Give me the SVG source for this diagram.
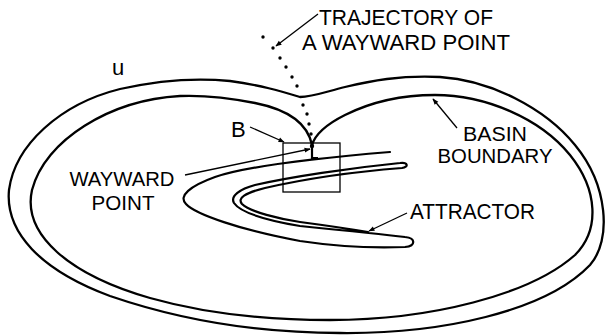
<svg xmlns="http://www.w3.org/2000/svg" width="605" height="336" viewBox="0 0 605 336">
<defs>
<marker id="ah" viewBox="0 0 10 10" refX="9" refY="5" markerWidth="7" markerHeight="6" markerUnits="userSpaceOnUse" orient="auto">
<path d="M0,1 L10,5 L0,9 Z" fill="#000"/>
</marker>
</defs>
<style>
.curve{fill:none;stroke:#000;stroke-width:2.3;stroke-linejoin:round;stroke-linecap:round}
.attr{fill:none;stroke:#000;stroke-width:2.2;stroke-linejoin:round;stroke-linecap:round}
.lead{fill:none;stroke:#000;stroke-width:1.3;marker-end:url(#ah)}
.lbl{font-family:"Liberation Sans",Arial,sans-serif;font-size:22px;fill:#000}
.sm{font-size:20px}
.dot{fill:#000}
</style>
<rect width="605" height="336" fill="#fff"/>
<g id="region-u">
<path class="curve" d="M300,97 C280,91 260,85 230,81 C200,78 160,80 120,89 C60,104 15,145 9,190 C5,232 40,270 110,296 C180,320 260,333 340,333 C440,334 545,312 590,265 C612,240 608,185 575,145 C545,108 490,80 440,77 C400,75 370,81 345,87 C325,92 312,97 300,97 Z"/>
<text class="lbl" x="112" y="75">u</text>
</g>
<g id="basin-boundary">
<path class="curve" d="M312,145 C308,125 290,110 255,103 C230,98 205,95 180,96 C110,100 45,140 32,190 C22,235 70,275 150,298 C210,315 270,320 330,320 C430,320 530,295 575,255 C600,230 598,190 570,155 C540,118 485,95 435,95 C395,95 365,105 345,115 C325,125 315,135 312,145 Z"/>
<text class="lbl sm" x="495" y="141" text-anchor="middle" textLength="64" lengthAdjust="spacingAndGlyphs">BASIN</text>
<text class="lbl sm" x="495" y="163" text-anchor="middle" textLength="115" lengthAdjust="spacingAndGlyphs">BOUNDARY</text>
</g>
<g id="attractor">
<path class="attr" d="M390,152 C330,157 250,165 215,177 C190,186 178,196 186,204 C195,214 240,230 300,241 C340,247 380,248 405,247 C416,246 416,238 405,237 C380,234 350,231 300,226 C265,220 240,212 234,203 C230,196 240,189 255,185 C290,177 350,168 400,163 C408,162 409,167 402,168 C350,172 300,180 265,188 C245,193 237,198 242,204 C250,212 280,219 300,222 C330,226 350,229 368,232"/>
<text class="lbl" x="410" y="219" textLength="125" lengthAdjust="spacingAndGlyphs">ATTRACTOR</text>
</g>
<g id="wayward-point">
<rect x="283" y="143" width="57" height="49" fill="none" stroke="#000" stroke-width="1.3"/>
<path d="M312,145 L312,158 L318,158" fill="none" stroke="#000" stroke-width="2.2"/>
<circle class="dot" cx="312" cy="146" r="2.2"/>
<text class="lbl sm" x="122" y="186" text-anchor="middle" textLength="105" lengthAdjust="spacingAndGlyphs">WAYWARD</text>
<text class="lbl sm" x="123" y="210" text-anchor="middle" textLength="63" lengthAdjust="spacingAndGlyphs">POINT</text>
</g>
<g id="trajectory">
<circle class="dot" cx="263" cy="37" r="1.7"/>
<circle class="dot" cx="273" cy="48" r="1.7"/>
<circle class="dot" cx="280" cy="58" r="1.7"/>
<circle class="dot" cx="286" cy="67" r="1.7"/>
<circle class="dot" cx="292" cy="77" r="1.7"/>
<circle class="dot" cx="297" cy="86" r="1.7"/>
<circle class="dot" cx="303" cy="105" r="1.7"/>
<circle class="dot" cx="307" cy="114" r="1.7"/>
<circle class="dot" cx="309" cy="124" r="1.7"/>
<circle class="dot" cx="311" cy="134" r="1.7"/>
<text class="lbl" x="319" y="25" textLength="174" lengthAdjust="spacingAndGlyphs">TRAJECTORY OF</text>
<text class="lbl" x="302" y="50" textLength="208" lengthAdjust="spacingAndGlyphs">A WAYWARD POINT</text>
</g>
<g id="label-b">
<text class="lbl" x="231" y="137">B</text>
</g>
<g id="connectors">
<path class="lead" d="M318,14 L276,46"/>
<path class="lead" d="M250,127 L284,142"/>
<path class="lead" d="M185,175 L310,149"/>
<path class="lead" d="M457,128 L433,99"/>
<path class="lead" d="M407,213 L369,231"/>
</g>
</svg>
